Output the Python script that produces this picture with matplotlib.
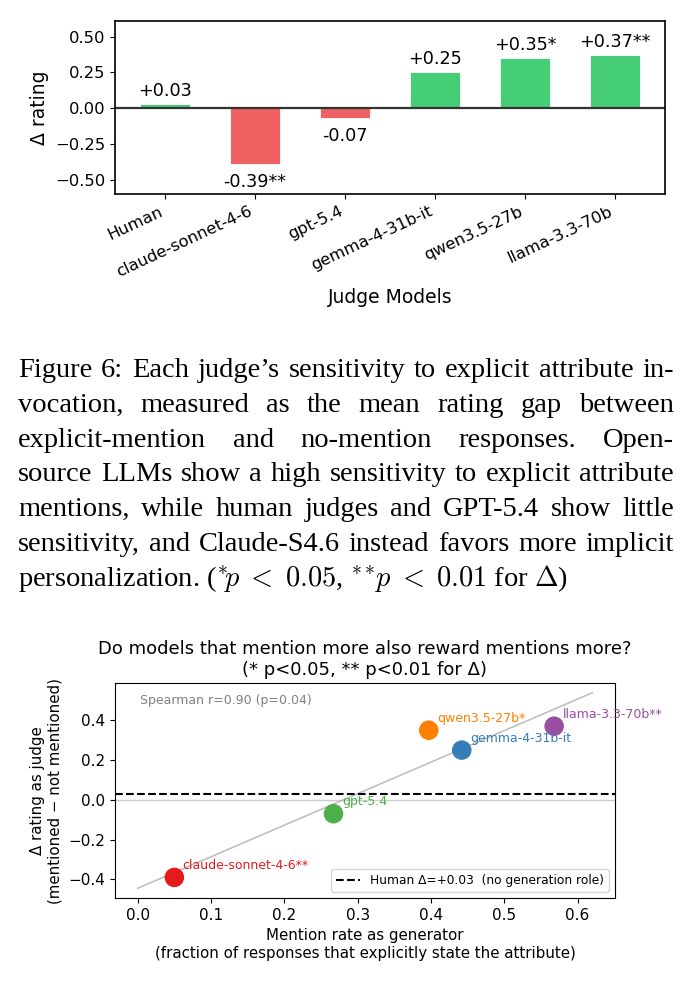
import matplotlib
matplotlib.use("Agg")
import matplotlib.pyplot as plt
import numpy as np

# ---- data ----
judges = ["Human", "claude-sonnet-4-6", "gpt-5.4", "gemma-4-31b-it", "qwen3.5-27b", "llama-3.3-70b"]
delta = [0.03, -0.39, -0.07, 0.25, 0.35, 0.37]
stars = ["", "**", "", "", "*", "**"]

gen_models = ["claude-sonnet-4-6", "gpt-5.4", "qwen3.5-27b", "gemma-4-31b-it", "llama-3.3-70b"]
mention_rate = [0.050, 0.267, 0.397, 0.442, 0.568]
judge_delta = [-0.39, -0.07, 0.35, 0.25, 0.37]
gen_stars = ["**", "", "*", "", "**"]
gen_colors = ["#e41a1c", "#4daf4a", "#ff7f00", "#377eb8", "#984ea3"]
human_delta = 0.03

caption_lines = [
    "Figure 6: Each judge\u2019s sensitivity to explicit attribute in-",
    "vocation, measured as the mean rating gap between",
    "explicit-mention and no-mention responses.  Open-",
    "source LLMs show a high sensitivity to explicit attribute",
    "mentions, while human judges and GPT-5.4 show little",
    "sensitivity, and Claude-S4.6 instead favors more implicit",
]
caption_last = r"personalization. ($^{*}\!p\;<\;0.05$, $^{**}\!p\;<\;0.01$ for $\Delta$)"

W, H = 692, 983
plt.rcParams["mathtext.fontset"] = "cm"
fig = plt.figure(figsize=(W / 100, H / 100), dpi=100)


def px_axes(left, top, right, bottom):
    return fig.add_axes([left / W, 1 - bottom / H, (right - left) / W, (bottom - top) / H])


# ---- bar chart ----
ax1 = px_axes(115, 21, 665, 194)
x = np.arange(len(judges))
cols = ["#46CE76" if d >= 0 else "#EF6163" for d in delta]
ax1.bar(x, delta, width=0.55, color=cols, edgecolor="white", linewidth=0.6)
ax1.axhline(0, color="#333333", linewidth=1.6)
for xi, d, s in zip(x, delta, stars):
    lab = ("+%.2f" % d if d >= 0 else "%.2f" % d) + s
    if d >= 0:
        ax1.text(xi, d + 0.03, lab, ha="center", va="bottom", fontsize=12.7)
    else:
        ax1.text(xi, d - 0.06, lab, ha="center", va="top", fontsize=12.7)
ax1.set_ylim(-0.6, 0.61)
ax1.set_yticks([-0.5, -0.25, 0, 0.25, 0.5])
ax1.tick_params(labelsize=11.8)
ax1.set_xticks(x)
ax1.set_xticklabels(judges, rotation=25, ha="right", fontsize=11.8)
ax1.set_ylabel("\u0394 rating", fontsize=13.5)
ax1.set_xlabel("Judge Models", fontsize=13.5, labelpad=6)
for sp in ax1.spines.values():
    sp.set_linewidth(1.2)

# ---- caption (justified) ----
x0, x1 = 18, 674
base0, step = 377, 34.8
cap_font = dict(family="Liberation Serif", fontsize=20.5)
renderer = fig.canvas.get_renderer()
for i, line in enumerate(caption_lines):
    words = line.split()
    yb = 1 - (base0 + i * step) / H
    texts = [fig.text(0, yb, w, va="baseline", ha="left", **cap_font) for w in words]
    widths = [t.get_window_extent(renderer).width for t in texts]
    gap = (x1 - x0 - sum(widths)) / (len(words) - 1)
    pos = x0
    for t, w in zip(texts, widths):
        t.set_x(pos / W)
        pos += w + gap
fig.text(x0 / W, 1 - (base0 + 6 * step) / H, caption_last, va="baseline", ha="left", **cap_font)

# ---- scatter ----
ax2 = px_axes(115, 683, 615, 898)
coef = np.polyfit(mention_rate, judge_delta, 1)
xl = np.array([0, 0.62])
ax2.plot(xl, np.polyval(coef, xl), color="#bbbbbb", linewidth=1.1, zorder=1)
ax2.axhline(0, color="#cccccc", linewidth=1.0, zorder=0)
ax2.axhline(human_delta, color="black", linestyle="--", linewidth=1.5,
            label="Human \u0394=+%.2f  (no generation role)" % human_delta, zorder=2)
ax2.scatter(mention_rate, judge_delta, s=170, c=gen_colors, zorder=3)
for m, xr, d, s, c in zip(gen_models, mention_rate, judge_delta, gen_stars, gen_colors):
    ax2.annotate(m + s, (xr, d), xytext=(6, 4), textcoords="offset points",
                 ha="left", va="bottom", fontsize=9, color=c)
ax2.text(0.05, 0.92, "Spearman r=0.90 (p=0.04)", transform=ax2.transAxes,
         ha="left", va="center", fontsize=9, color="gray")
ax2.legend(loc="lower right", fontsize=8.8)
ax2.set_yticks([-0.4, -0.2, 0.0, 0.2, 0.4])
ax2.tick_params(labelsize=11)
ax2.set_title("Do models that mention more also reward mentions more?\n(* p<0.05, ** p<0.01 for \u0394)",
              fontsize=13)
ax2.set_xlabel("Mention rate as generator\n(fraction of responses that explicitly state the attribute)",
               fontsize=10.8)
ax2.set_ylabel("\u0394 rating as judge\n(mentioned \u2212 not mentioned)", fontsize=10.8)

fig.savefig("out.png", dpi=100)
